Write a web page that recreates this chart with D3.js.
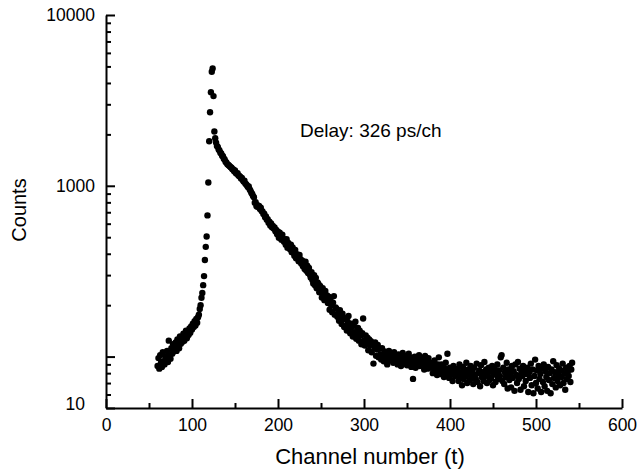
<!DOCTYPE html>
<html>
<head>
<meta charset="utf-8">
<script src="https://cdn.jsdelivr.net/npm/d3@7"></script>
<style>
  body { margin: 0; background: #fff; }
  text { font-family: "Liberation Sans", Arial, Helvetica, sans-serif; fill: #000; }
</style>
</head>
<body>
<script>
// Channel of the first point, then one count per channel
const firstChannel = 60;
const counts = [
    88, 98, 85, 102, 92, 87, 106, 94, 90, 100,
    96, 108, 93, 124, 101, 97, 112, 104, 118, 107,
    113, 121, 108, 126, 116, 112, 131, 119, 127, 122,
    136, 124, 131, 142, 128, 139, 134, 146, 138, 150,
    144, 156, 149, 161, 152, 166, 158, 170,
    176, 190, 200, 221, 236, 262, 296, 368, 439,
    505, 671, 1045, 1824, 2697, 3535, 4650, 4865, 3350, 2080, 1900,
    1790, 1710, 1690, 1630, 1610, 1560, 1545, 1500, 1490, 1440,
    1425, 1385, 1370, 1340, 1330, 1315, 1300, 1285, 1275, 1250,
    1245, 1215, 1230, 1190, 1175, 1185, 1150, 1140, 1130, 1105,
    1110, 1080, 1060, 1070, 1030, 1020, 1005, 985, 990, 955,
    935, 910, 896, 872, 858, 795, 802, 758, 771, 752,
    763, 731, 744, 712, 708, 684, 687, 655, 662, 633,
    637, 607, 616, 586, 602, 571, 582, 563, 571, 541,
    552, 521, 538, 496, 531, 507, 483, 518, 492, 470,
    478, 452, 487, 434, 463, 441, 425, 452, 408, 436,
    412, 390, 421, 376, 398, 384, 361, 394, 372, 351,
    366, 338, 352, 326, 359, 318, 341, 309, 330, 302,
    290, 312, 281, 268, 300, 262, 289, 251, 272, 266,
    238, 259, 247, 222, 251, 235, 214, 242, 219, 228,
    206, 224, 188, 213, 199, 182, 207, 226, 176, 194,
    191, 171, 180, 162, 187, 174, 155, 178, 166, 149,
    168, 151, 142, 160, 173, 146, 137, 156, 149, 131,
    152, 139, 160, 127, 136, 147, 124, 142, 133, 118,
    137, 167, 124, 116, 133, 121, 129, 109, 126, 117,
    123, 106, 119, 91, 113, 121, 101, 110, 117, 99,
    111, 103, 96, 112, 101, 94, 107, 97, 103, 90,
    100, 108, 95, 104, 98, 102, 92, 106, 97, 101,
    98, 90, 103, 94, 100, 88, 97, 105, 92, 99,
    96, 101, 89, 98, 104, 93, 99, 87, 97, 74,
    92, 100, 86, 95, 98, 90, 102, 88, 94, 97,
    90, 96, 84, 101, 89, 93, 85, 98, 91, 88,
    86, 92, 80, 89, 95, 83, 88, 78, 90, 99,
    84, 79, 90, 82, 87, 76, 85, 92, 80, 104,
    81, 75, 86, 78, 83, 72, 88, 80, 77, 84,
    79, 85, 72, 90, 76, 81, 68, 87, 74, 83,
    77, 92, 70, 84, 79, 73, 88, 75, 82, 69,
    86, 78, 74, 91, 71, 80, 83, 67, 89, 76,
    81, 72, 93, 77, 84, 70, 79, 86, 73, 82,
    75, 88, 68, 80, 85, 71, 78, 90, 74, 83,
    77, 99, 102, 72, 86, 69, 81, 76, 92, 65,
    84, 73, 79, 66, 88, 75, 82, 63, 90, 78,
    70, 93, 74, 85, 64, 80, 77, 88, 67, 83,
    72, 79, 86, 62, 81, 75, 91, 68, 84, 61,
    77, 96, 70, 83, 65, 88, 74, 79, 62, 85,
    71, 90, 67, 82, 76, 63, 87, 73, 80, 61,
    84, 69, 94, 75, 81, 66, 89, 72, 78, 85,
    68, 83, 76, 91, 70, 80, 64, 86, 74, 82,
    77, 88, 71, 84, 92
];

// Axis ticks
const xTickValues = [0, 100, 200, 300, 400, 500, 600];
const xMinorTicks = [50, 150, 250, 350, 450, 550];
const yTickValues = [50, 100, 1000, 10000];
const yTickLabels = ["10", "", "1000", "10000"];
const yMinorTicks = [60, 70, 80, 90, 200, 300, 400, 500, 600, 700, 800, 900,
    2000, 3000, 4000, 5000, 6000, 7000, 8000, 9000];

const width = 640;
const height = 474;
const plotLeft = 106, plotRight = 622, plotTop = 15, plotBottom = 408;

const svg = d3.select("body")
    .append("svg")
    .attr("width", width)
    .attr("height", height);

const x = d3.scaleLinear().domain([0, 600]).range([plotLeft, plotRight]);
const y = d3.scaleLog().domain([50, 10000]).range([plotBottom, plotTop]);

// x axis (ticks pointing inward)
svg.append("g")
    .attr("transform", `translate(0,${plotBottom})`)
    .call(d3.axisBottom(x)
        .tickValues(xTickValues)
        .tickSizeInner(-9)
        .tickSizeOuter(0)
        .tickPadding(11));

svg.append("g")
    .attr("transform", `translate(0,${plotBottom})`)
    .call(d3.axisBottom(x)
        .tickValues(xMinorTicks)
        .tickSizeInner(-5)
        .tickSizeOuter(0)
        .tickFormat(""))
    .call(g => g.select(".domain").remove());

// y axis
const yAxis = svg.append("g")
    .attr("transform", `translate(${plotLeft},0)`)
    .call(d3.axisLeft(y)
        .tickValues(yTickValues)
        .tickSizeInner(-9)
        .tickSizeOuter(0)
        .tickPadding(11)
        .tickFormat((d, i) => yTickLabels[i]));

// the bottom label sits a little further left
yAxis.selectAll(".tick text")
    .filter((d, i) => i === 0)
    .attr("dx", "-10px")
    .attr("dy", "0.1em");

svg.append("g")
    .attr("transform", `translate(${plotLeft},0)`)
    .call(d3.axisLeft(y)
        .tickValues(yMinorTicks)
        .tickSizeInner(-5)
        .tickSizeOuter(0)
        .tickFormat(""))
    .call(g => g.select(".domain").remove());

svg.selectAll(".domain, .tick line")
    .attr("stroke", "#000")
    .attr("stroke-width", 2);

svg.selectAll(".tick text")
    .style("font-size", "17.5px")
    .attr("fill", "#000");

// data points
svg.append("g")
    .selectAll("circle")
    .data(counts)
    .join("circle")
    .attr("cx", (d, i) => x(firstChannel + i))
    .attr("cy", d => y(d))
    .attr("r", 3.2)
    .attr("fill", "#000");

// annotation
svg.append("text")
    .attr("x", 300)
    .attr("y", 137)
    .style("font-size", "19px")
    .text("Delay: 326 ps/ch");

// axis titles
svg.append("text")
    .attr("x", (plotLeft + plotRight) / 2 + 6)
    .attr("y", 464)
    .attr("text-anchor", "middle")
    .style("font-size", "22px")
    .text("Channel number (t)");

svg.append("text")
    .attr("transform", "translate(26,210) rotate(-90)")
    .attr("text-anchor", "middle")
    .style("font-size", "20px")
    .text("Counts");
</script>
</body>
</html>
